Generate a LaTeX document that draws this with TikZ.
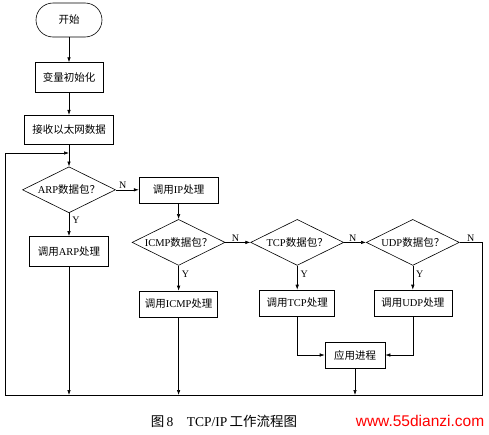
\documentclass[tikz,border=0pt]{standalone}
\usepackage{fontspec}
\setmainfont{Liberation Serif}
\newfontfamily\cjk{Noto Sans CJK SC}
\newfontfamily\wmfont{Liberation Sans}
\newcommand{\zh}[1]{{\cjk #1}}
\usetikzlibrary{positioning,arrows.meta,shapes.geometric}

\begin{document}
\begin{tikzpicture}[x=1pt,y=-1pt,>={Latex[length=5pt,width=3.5pt]},
  font=\fontsize{10.5}{12}\selectfont,
  line width=0.6pt,
  proc/.style={draw,minimum height=26pt,inner sep=2pt},
  decide/.style={draw,diamond,aspect=2,inner sep=0pt,minimum width=93pt,minimum height=46pt},
  term/.style={draw,rounded corners=17pt,minimum width=66pt,minimum height=34pt},
  lbl/.style={font=\fontsize{10}{12}\selectfont,inner sep=1pt}]
  \useasboundingbox (0,0) rectangle (489,434);

  \node[term] (start) at (69,20) {\zh{开始}};
  \node[proc,minimum width=68pt,minimum height=30pt,below=25pt of start] (init) {\zh{变量初始化}};
  \node[proc,minimum width=89pt,minimum height=29pt,below=22pt of init] (recv) {\zh{接收以太网数据}};
  \node[decide,below=22pt of recv] (arp) {ARP\zh{数据包？}};
  \node[proc,minimum width=79pt,minimum height=30pt,below=23pt of arp] (arpcall) {\zh{调用}ARP\zh{处理}};
  \node[proc,minimum width=79pt,right=23pt of arp] (ipcall) {\zh{调用}IP\zh{处理}};
  \node[decide,below=16pt of ipcall] (icmp) {ICMP\zh{数据包？}};
  \node[proc,minimum width=78pt,below=25pt of icmp] (icmpcall) {\zh{调用}ICMP\zh{处理}};
  \node[decide,right=25pt of icmp] (tcp) {TCP\zh{数据包？}};
  \node[decide,right=22pt of tcp] (udp) {UDP\zh{数据包？}};
  \node[proc,minimum width=75pt,below=24pt of tcp] (tcpcall) {\zh{调用}TCP\zh{处理}};
  \node[proc,minimum width=78pt,below=24pt of udp] (udpcall) {\zh{调用}UDP\zh{处理}};
  \node[proc,minimum width=60pt] (app) at (355,355) {\zh{应用进程}};

  % return path
  \coordinate (loopl) at (5,395);
  \coordinate (loopr) at (482,395);
  \coordinate (loopt) at (5,153);

  \draw[->] (start) -- (init);
  \draw[->] (init) -- (recv);
  \draw[->] (recv) -- (arp);
  \draw[->] (arp) -- node[lbl,pos=.3,above] {N} (ipcall);
  \draw[->] (arp) -- node[lbl,pos=.3,right=2pt] {Y} (arpcall);
  \draw[->] (ipcall) -- (icmp);
  \draw[->] (icmp) -- node[lbl,pos=.4,above] {N} (tcp);
  \draw[->] (icmp) -- node[lbl,pos=.35,right=2pt] {Y} (icmpcall);
  \draw[->] (tcp) -- node[lbl,pos=.4,above] {N} (udp);
  \draw[->] (tcp) -- node[lbl,pos=.35,right=2pt] {Y} (tcpcall);
  \draw[->] (udp) -- node[lbl,pos=.35,right=2pt] {Y} (udpcall);
  \draw[->] (tcpcall) |- (app);
  \draw[->] (udpcall) |- (app);
  \draw[->] (udp.east) -- node[lbl,above] {N} (loopr |- udp.east) -- (loopr)
    -- (loopl) -- (loopt) -- (recv.south |- loopt);
  \draw[->] (arpcall) -- (arpcall |- loopl);
  \draw[->] (icmpcall) -- (icmpcall |- loopl);
  \draw[->] (app) -- (app |- loopl);

  % caption
  \node[font=\fontsize{13.5}{15}\selectfont] (cap) at (224,421) {\zh{图}\,8\quad TCP/IP\,\zh{工作流程图}};
  \node[text=red,font=\wmfont\fontsize{15.5}{18}\selectfont] (wm) at (420,421) {www.55dianzi.com};
\end{tikzpicture}
\end{document}
